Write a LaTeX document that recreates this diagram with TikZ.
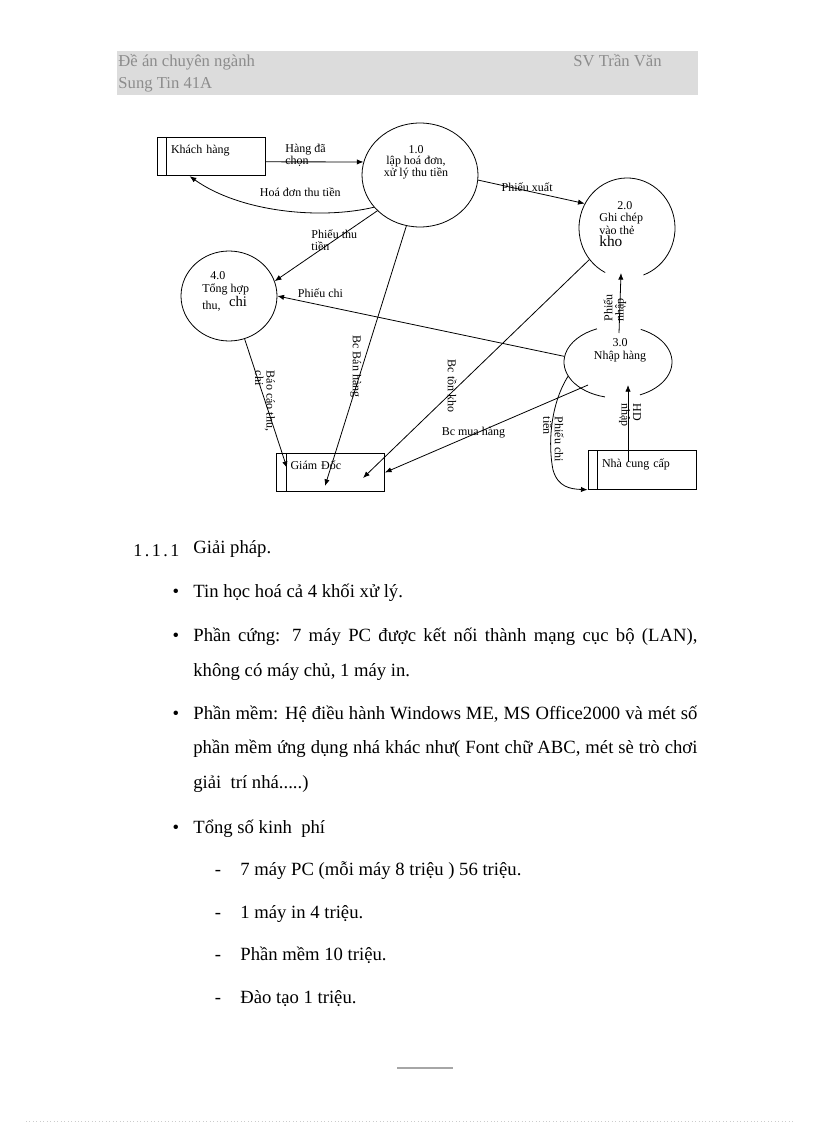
\documentclass[tikz,border=0pt]{standalone}
\usepackage{fontspec}
\setmainfont{Liberation Serif}
\usetikzlibrary{shapes.geometric,arrows.meta}

\definecolor{hdrgray}{HTML}{DCDCDC}
\definecolor{hdrtext}{HTML}{8C8C8C}

\begin{document}
\begin{tikzpicture}[x=0.75pt,y=-0.75pt,line width=0.6pt,
	>={Latex[length=5pt,width=4pt]},
	lbl/.style={font=\fontsize{9}{8.5}\selectfont,inner sep=0pt},
	ext/.style={draw,rectangle,minimum width=81pt,minimum height=29pt,
		text width=60pt,inner xsep=10.5pt,inner ysep=0pt,align=left,
		text height=1pt,text depth=5.4pt,font=\fontsize{9}{8.5}\selectfont},
	proc/.style={draw,ellipse,inner sep=0pt},
	hdr/.style={font=\fontsize{12.5}{14}\selectfont,text=hdrtext,inner sep=0pt,anchor=base west},
	body/.style={font=\fontsize{14}{16}\selectfont,inner sep=0pt,anchor=base west}]
\useasboundingbox (0,0) rectangle (816,1123);

% header
\fill[hdrgray] (117,51) rectangle (698,95);
\node[hdr] (hleft) at (118,67) {Đề án chuyên ngành};
\node[hdr] (hright) at (573,67) {SV Trần Văn};
\node[hdr] (hleft2) at (118,89) {Sung Tin 41A};

% entities
\node[ext] (kh) at (211,156.5) {Khách hàng};
\node[ext] (gd) at (330.5,472.5) {Giám Đốc};
\node[ext] (ncc) at (642,470) {Nhà cung cấp};
\foreach \b in {kh,gd,ncc}
	\draw ([xshift=7.5pt]\b.north west) -- ([xshift=7.5pt]\b.south west);

% processes
\node[proc,minimum width=87pt,minimum height=78pt] (p1) at (420,175) {};
\node[proc,draw=none,minimum width=72pt,minimum height=75pt] (p2) at (627,228) {};
\node[proc,draw=none,minimum width=81pt,minimum height=54pt] (p3) at (618,362) {};
\node[proc,minimum width=72pt,minimum height=67.5pt] (p4) at (229,296) {};
\draw ([shift={(117:48 and 50)}]p2.center) arc[start angle=117,end angle=430,x radius=48,y radius=50];
\draw ([shift={(104:54 and 36)}]p3.center) arc[start angle=104,end angle=247,x radius=54,y radius=36];
\draw ([shift={(295:54 and 36)}]p3.center) arc[start angle=295,end angle=426,x radius=54,y radius=36];

\node[lbl,align=center] (t1) at (416,162) {1.0\\lập hoá đơn,\\xử lý thu tiền};
\node[lbl,font=\fontsize{9}{9.4}\selectfont,align=left,anchor=north west] (t2) at (599,201)
	{\hspace*{13.5pt}2.0\\Ghi chép\\vào thẻ\\{\fontsize{11.5}{10}\selectfont kho}};
\node[lbl,font=\fontsize{9}{10}\selectfont,align=center] (t3) at (620,350) {3.0\\Nhập hàng};
\node[lbl,font=\fontsize{9}{10}\selectfont,align=left,anchor=north west] (t4) at (202,271)
	{\hspace*{6pt}4.0\\Tổng hợp\\thu, \hspace{4pt}\raisebox{2pt}{\fontsize{11}{11}\selectfont chi}};

% flows
\draw[->] ([yshift=-4pt]kh.east) -- node[lbl,anchor=west,align=left,pos=0.2,yshift=5pt] (lhang) {Hàng đã\\chọn} (p1.167);
\draw[->] (p1.215) .. controls (320,220) and (240,212) .. ([xshift=-16pt]kh.south)
	node[lbl,pos=0.4,yshift=14.6pt] (lhoadon) {Hoá đơn thu tiền};
\draw[->] (p1.-5) -- node[lbl,pos=0.46,yshift=3pt] (lxuat) {Phiếu xuất} (p2.150);
\draw[->] (p1.220) -- node[lbl,align=left,pos=0.42] (lthu) {Phiếu thu\\tiền} (p4.18);
\draw[->] (p3.174) -- node[lbl,pos=0.85,yshift=9pt] (lchi) {Phiếu chi} (p4.east);
\draw[->] (p4.290) -- node[lbl,align=left,pos=0.48,rotate=-90] (lbaocao) {Báo cáo thu,\\chi} ([shift={(-43.5,-4.5)}]gd.center);
\draw[->] (p1.255) -- node[lbl,pos=0.54,xshift=-5pt,rotate=-90] (lban) {Bc Bán hàng} ([shift={(-5.5,13.5)}]gd.center);
\draw[->] (p2.220) -- node[lbl,pos=0.58,xshift=-4.5pt,rotate=-90] (lton) {Bc tồn kho} ([shift={(32.5,5.5)}]gd.center);
\draw[->] ([shift={(-30,23)}]p3.center) -- node[lbl,pos=0.564,yshift=1.5pt] (lmua) {Bc mua hàng} (gd.east);
\draw[->] (p3.196) .. controls (550,405) and (548,445) .. (553,470)
	node[lbl,align=left,pos=0.65,xshift=2pt,rotate=-90] (lchitien) {Phiếu chi\\tiền}
	.. controls (558,487) and (570,489) .. (ncc.south west);
\draw[->] ([shift={(-14,-8)}]ncc.center) -- node[lbl,align=left,pos=0.61,xshift=1.5pt,rotate=-90] (lhd) {HD\\nhập} ([shift={(10,23)}]p3.center);
\draw[->] ([shift={(1,-29)}]p3.center) -- node[lbl,align=left,pos=0.42,xshift=-3.75pt,rotate=90] (lnhap) {Phiếu\\nhập} ([shift={(-6,45)}]p2.center);

% text below
\node[font=\fontsize{13.5}{15}\selectfont\addfontfeature{LetterSpace=14},inner sep=0pt,anchor=base west] (secnum) at (133,556) {1.1.1};
\node[body] (sec) at (193,553) {Giải pháp.};
\foreach \y/\n in {597/b1,641/b2,719/b3,833/b4}
	\node[body,anchor=base] (\n) at (176,\y) {\textbullet};
\node[body] (l1) at (193,597) {Tin học hoá cả 4 khối xử lý.};
\node[body] (l2) at (193,641) {\makebox[378pt][s]{Phần cứng: 7 máy PC được kết nối thành mạng cục bộ (LAN),}};
\node[body] (l3) at (193,676) {không có máy chủ, 1 máy in.};
\node[body] (l4) at (193,719) {\makebox[378pt][s]{Phần mềm: Hệ điều hành Windows ME, MS Office2000 và mét số}};
\node[body] (l5) at (193,753) {\makebox[378pt][s]{phần mềm ứng dụng nhá khác như( Font chữ ABC, mét sè trò chơi}};
\node[body] (l6) at (193,788) {giải\ \ trí nhá.....)};
\node[body] (l7) at (193,833) {Tổng số kinh\ \ phí};
\foreach \y/\n in {875/d1,918/d2,960/d3,1003/d4}
	\node[body,anchor=base] (\n) at (218,\y) {-};
\node[body] (c1) at (240,875) {7 máy PC (mỗi máy 8 triệu ) 56 triệu.};
\node[body] (c2) at (240,918) {1 máy in 4 triệu.};
\node[body] (c3) at (240,960) {Phần mềm 10 triệu.};
\node[body] (c4) at (240,1003) {Đào tạo 1 triệu.};

% footer
\draw[gray!70,line width=1pt] (397,1068) -- (453,1068);
\draw[gray!40,dotted] (26,1121) -- (795,1121);

\end{tikzpicture}
\end{document}
